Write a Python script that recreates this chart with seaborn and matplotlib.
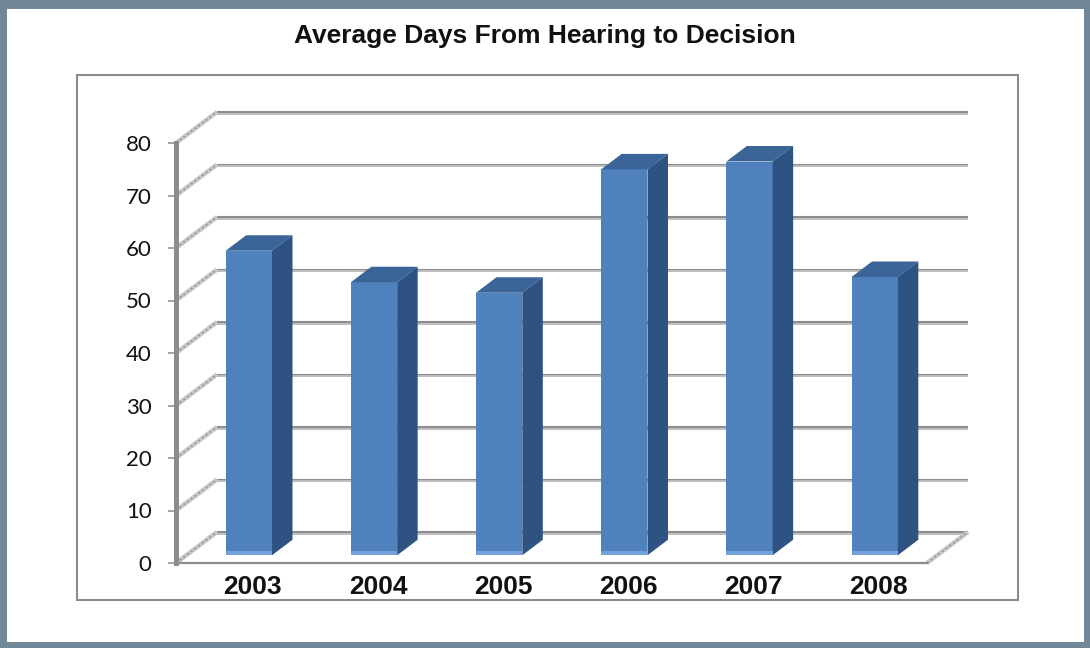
import numpy as np
import pandas as pd
import matplotlib
matplotlib.use('Agg')
import matplotlib.pyplot as plt
from matplotlib.patches import Rectangle, Polygon
from matplotlib.transforms import ScaledTranslation
import seaborn as sns

# data
years = ['2003', '2004', '2005', '2006', '2007', '2008']
avg_days = [58, 52, 50, 73.5, 75, 53]
y_ticks = list(range(0, 81, 10))
title = 'Average Days From Hearing to Decision'

sns.set_style('white')
plt.rcParams['font.family'] = ['Liberation Sans', 'DejaVu Sans']

W, H = 1090, 648
border_col = '#6f8797'
grid_dark = '#8e8e8e'
grid_light = '#bdbdbd'
front_col = '#4f81bd'
top_col = '#3b6598'
side_col = '#2e5383'

fig = plt.figure(figsize=(W / 100, H / 100), dpi=100)
fig.patch.set_facecolor(border_col)
fig.patches.append(Rectangle((7 / W, 6 / H), (W - 13) / W, (H - 15) / H,
                             transform=fig.transFigure, facecolor='white',
                             edgecolor='none', zorder=-10))
# chart area frame
fig.patches.append(Rectangle((77 / W, (H - 600) / H), (1018 - 77) / W, (600 - 75) / H,
                             transform=fig.transFigure, fill=False,
                             edgecolor='#8c8c8c', linewidth=1.5, zorder=-5))

fig.text(0.5, (H - 42.5) / H, title, ha='center', va='baseline',
         fontsize=19, fontweight='bold', color='#111111')

# front plane of the 3d box
ax = fig.add_axes([176 / W, (H - 563) / H, 751 / W, 420 / H])
ax.set_facecolor('none')

df = pd.DataFrame({'year': years, 'days': avg_days})
sns.barplot(data=df, x='year', y='days', color=front_col, saturation=1,
            width=0.37, ax=ax, zorder=3)
ax.set_xlim(-0.5, len(years) - 0.5)
ax.set_ylim(0, 80)

# depth offsets (pixels -> data units)
px_x = ax.bbox.width / len(years)
px_y = ax.bbox.height / 80
DX = 41 / px_x
DY = 31 / px_y
Z0, Z1 = 0.25, 0.75
x_lo, x_hi = ax.get_xlim()

# back wall gridlines
for v in y_ticks:
    ax.plot([x_lo + DX, x_hi + DX], [v + DY, v + DY], color=grid_dark,
            lw=1.5, zorder=1, clip_on=False, solid_capstyle='butt')
    ax.plot([x_lo + DX, x_hi + DX], [v + DY - 1.6 / px_y] * 2, color=grid_light,
            lw=1.4, zorder=1, clip_on=False, solid_capstyle='butt')

# side wall and floor diagonals
diag = [([x_lo, x_lo + DX], [v, v + DY]) for v in y_ticks]
diag.append(([x_hi, x_hi + DX], [0, DY]))
for xs, ys in diag:
    ax.plot(xs, ys, color='#c8c8c8', lw=3.2, zorder=1, clip_on=False,
            solid_capstyle='butt')
    ax.plot(xs, ys, color='#979797', lw=1.2, zorder=1, clip_on=False,
            dashes=(1.2, 1.6))

# bars: shift front faces back and add top/side faces
for p, val in zip(ax.patches, avg_days):
    x0 = p.get_x() + Z0 * DX
    w = p.get_width()
    p.set_x(x0)
    p.set_y(Z0 * DY)
    p.set_edgecolor('none')
    x1 = x0 + w
    y_base = Z0 * DY
    y_top = val + Z0 * DY
    ddx = (Z1 - Z0) * DX
    ddy = (Z1 - Z0) * DY
    ax.add_patch(Polygon([(x0, y_top), (x1, y_top), (x1 + ddx, y_top + ddy),
                          (x0 + ddx, y_top + ddy)], closed=True,
                         facecolor=top_col, edgecolor='none', zorder=3, clip_on=False))
    ax.add_patch(Polygon([(x1, y_base), (x1, y_top), (x1 + ddx, y_top + ddy),
                          (x1 + ddx, y_base + ddy)], closed=True,
                         facecolor=side_col, edgecolor='none', zorder=3, clip_on=False))
    ax.add_patch(Rectangle((x0, y_base), w, 4 / px_y, facecolor='#74a0d8',
                           edgecolor='none', zorder=3.5, clip_on=False))
    p.set_clip_on(False)

# axes styling
for s in ['top', 'right']:
    ax.spines[s].set_visible(False)
ax.spines['left'].set_color('#8c8c8c')
ax.spines['left'].set_linewidth(3.6)
ax.spines['bottom'].set_color('#8c8c8c')
ax.spines['bottom'].set_linewidth(1.6)
ax.spines['left'].set_zorder(4)
ax.spines['bottom'].set_zorder(4)

ax.set_yticks(y_ticks)
ax.tick_params(axis='y', left=True, length=5.5, width=1.1, color='#8c8c8c',
               pad=12, labelsize=16, labelcolor='#111111')
for lbl in ax.get_yticklabels():
    lbl.set_fontfamily('Lato')
ax.tick_params(axis='x', length=0, pad=8.5, labelsize=19, labelcolor='#111111')
shift = ScaledTranslation((Z0 * 41 + 4) / 100, 0, fig.dpi_scale_trans)
for lbl in ax.get_xticklabels():
    lbl.set_fontweight('bold')
    lbl.set_transform(lbl.get_transform() + shift)
ax.set_xlabel('')
ax.set_ylabel('')

fig.savefig('out.png', dpi=100, facecolor=fig.get_facecolor())
